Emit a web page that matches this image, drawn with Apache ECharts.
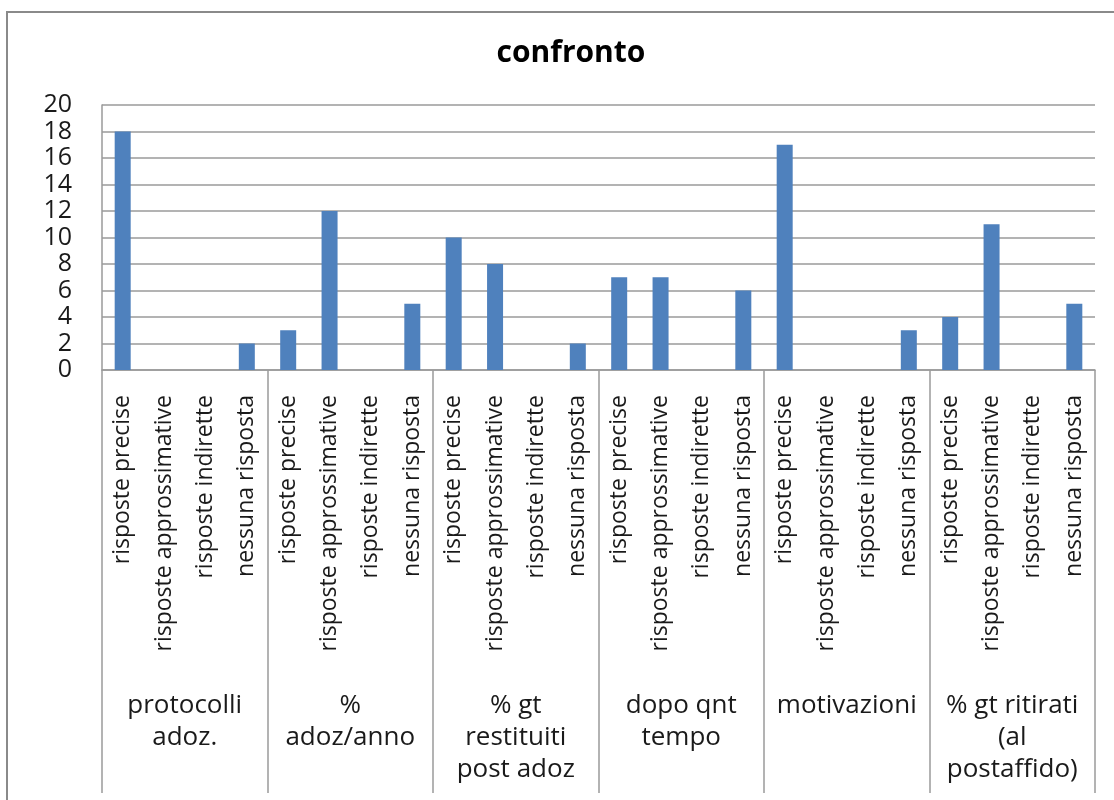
<!DOCTYPE html>
<html>
<head>
<meta charset="utf-8">
<script src="https://cdn.jsdelivr.net/npm/echarts@6/dist/echarts.min.js"></script>
<style>
  html, body { margin: 0; padding: 0; background: #fff; }
  #chart { width: 1114px; height: 800px; }
</style>
</head>
<body>
<div id="chart"></div>
<script>
// Answer types repeated under each question group
const answerTypes = ['risposte precise', 'risposte approssimative', 'risposte indirette', 'nessuna risposta'];

// Question groups (second level of the category axis)
const groups = [
  'protocolli\nadoz.',
  '%\nadoz/anno',
  '% gt\nrestituiti\npost adoz',
  'dopo qnt\ntempo',
  'motivazioni',
  '% gt ritirati\n(al\npostaffido)'
];

// Counts per group, in the order of answerTypes
const protocolliAdoz = [18, 0, 0, 2];
const adozAnno = [3, 12, 0, 5];
const gtRestituiti = [10, 8, 0, 2];
const dopoQntTempo = [7, 7, 0, 6];
const motivazioni = [17, 0, 0, 3];
const gtRitirati = [4, 11, 0, 5];

const yTicks = [0, 2, 4, 6, 8, 10, 12, 14, 16, 18, 20];

const groupValues = [protocolliAdoz, adozAnno, gtRestituiti, dopoQntTempo, motivazioni, gtRitirati];
const categories = [];
const values = [];
groupValues.forEach(function (g) {
  g.forEach(function (v, i) {
    categories.push(answerTypes[i]);
    values.push(v);
  });
});

const chart = echarts.init(document.getElementById('chart'), null, { renderer: 'canvas' });
const gridColor = '#9a9a9a';
const textColor = '#1a1a1a';
const font = 'Open Sans';

chart.setOption({
  animation: false,
  backgroundColor: '#fff',
  graphic: [{
    type: 'rect',
    shape: { x: 7, y: 12, width: 1300, height: 900 },
    style: { fill: 'none', stroke: '#8a8a8a', lineWidth: 2 },
    silent: true
  }],
  title: {
    text: 'confronto',
    left: 566,
    textAlign: 'center',
    top: 33,
    textStyle: { fontFamily: font, fontWeight: 'bold', fontSize: 30, color: '#000' }
  },
  grid: { left: 102, right: 19, top: 105, bottom: 430, containLabel: false },
  xAxis: [{
    type: 'category',
    position: 'bottom',
    data: categories,
    axisLine: { show: true, lineStyle: { color: gridColor, width: 1.5 } },
    axisTick: { show: false },
    axisLabel: {
      interval: 0,
      rotate: 90,
      margin: 25,
      fontFamily: font,
      fontSize: 23,
      color: textColor
    }
  }, {
    type: 'category',
    position: 'bottom',
    data: groups,
    axisLine: { show: false },
    axisTick: { show: true, length: 423, interval: 0, lineStyle: { color: gridColor, width: 1.5 } },
    axisLabel: {
      interval: 0,
      margin: 320,
      fontFamily: font,
      fontSize: 26,
      lineHeight: 32,
      color: textColor,
      align: 'center'
    }
  }],
  yAxis: {
    type: 'value',
    min: yTicks[0],
    max: yTicks[yTicks.length - 1],
    interval: 2,
    axisLine: { show: true, lineStyle: { color: gridColor, width: 1.5 } },
    axisTick: { show: false },
    splitLine: { show: true, lineStyle: { color: gridColor, width: 1.5 } },
    axisLabel: {
      margin: 30,
      fontFamily: font,
      fontSize: 25,
      color: textColor
    }
  },
  series: [{
    type: 'bar',
    xAxisIndex: 0,
    data: values,
    barWidth: 16,
    itemStyle: { color: '#4F81BD' }
  }]
});
</script>
</body>
</html>
